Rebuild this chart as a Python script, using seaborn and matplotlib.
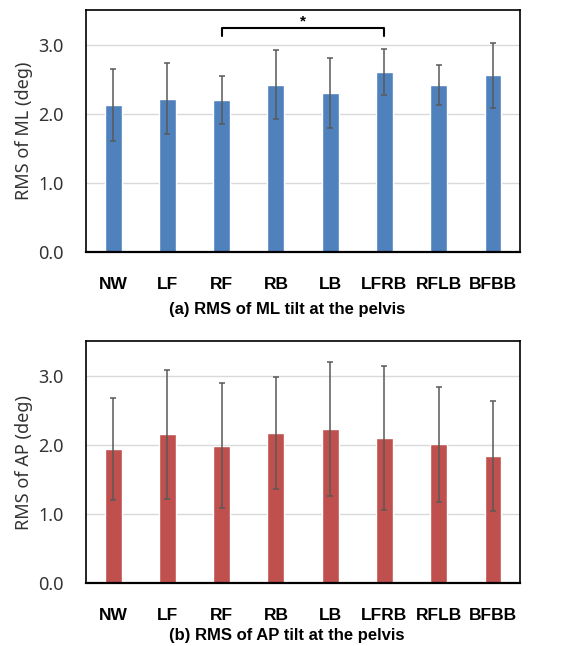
import matplotlib
matplotlib.use('Agg')
import matplotlib.pyplot as plt
import seaborn as sns
import pandas as pd
import numpy as np

# Walking conditions and their RMS values (deg).
conditions = ['NW', 'LF', 'RF', 'RB', 'LB', 'LFRB', 'RFLB', 'BFBB']
ml_mean = [2.12, 2.22, 2.20, 2.42, 2.30, 2.60, 2.42, 2.56]
ml_sd = [0.52, 0.52, 0.35, 0.50, 0.50, 0.33, 0.29, 0.47]
ap_mean = [1.94, 2.15, 1.99, 2.17, 2.23, 2.10, 2.01, 1.84]
ap_sd = [0.74, 0.93, 0.90, 0.81, 0.97, 1.04, 0.83, 0.80]

sns.set_style('white')
plt.rcParams['font.family'] = ['Noto Sans', 'DejaVu Sans']

fig = plt.figure(figsize=(5.74, 6.46), dpi=100)
ax1 = fig.add_axes([0.1498, 0.6099, 0.7562, 0.3746])
ax2 = fig.add_axes([0.1498, 0.0971, 0.7562, 0.3750])

panels = [
    (ax1, ml_mean, ml_sd, '#4F81BD', 'RMS of ML (deg)', '(a) RMS of ML tilt at the pelvis', 0.5215),
    (ax2, ap_mean, ap_sd, '#C0504D', 'RMS of AP (deg)', '(b) RMS of AP tilt at the pelvis', 0.0160),
]

bold_font = ['Liberation Sans', 'DejaVu Sans']

for ax, mean, sd, color, ylab, caption, cap_y in panels:
    df = pd.DataFrame({'cond': conditions, 'rms': mean})
    sns.barplot(data=df, x='cond', y='rms', color=color, saturation=1,
                width=0.31, errorbar=None, ax=ax, zorder=2)
    ax.errorbar(np.arange(len(conditions)), mean, yerr=sd, fmt='none',
                ecolor='#595959', elinewidth=1.1, capsize=2.3, capthick=1.1, zorder=3)
    ax.set_ylim(0, 3.5)
    ax.set_xlim(-0.5, len(conditions) - 0.5)
    ax.set_yticks([0, 1, 2, 3])
    ax.set_yticklabels(['0.0', '1.0', '2.0', '3.0'], fontsize=13, color='#333333')
    ax.set_xticks(np.arange(len(conditions)))
    ax.set_xticklabels(conditions, fontsize=12.5, fontweight='bold', color='black',
                       family=bold_font)
    ax.yaxis.grid(True, color='#D9D9D9', linewidth=1.0, zorder=0)
    ax.set_axisbelow(True)
    ax.set_xlabel('')
    ax.set_ylabel(ylab, fontsize=13, color='#333333', labelpad=4)
    ax.tick_params(axis='x', length=0, pad=18)
    ax.tick_params(axis='y', length=0, pad=16)
    for s in ax.spines.values():
        s.set_visible(True)
        s.set_color('black')
        s.set_linewidth(1.2)
    ax.spines['bottom'].set_linewidth(1.6)
    fig.text(0.5, cap_y, caption, ha='center', va='center', fontsize=12,
             fontweight='bold', color='black', family=bold_font)

# Significance bracket between RF and LFRB
x0, x1 = conditions.index('RF'), conditions.index('LFRB')
ax1.plot([x0, x0, x1, x1], [3.125, 3.245, 3.245, 3.125], color='black', linewidth=1.5,
         zorder=4, clip_on=False)
ax1.text((x0 + x1) / 2, 3.33, '*', ha='center', va='center', fontsize=11,
         fontweight='bold', color='black', family=bold_font)

fig.savefig('out.png', dpi=100)
